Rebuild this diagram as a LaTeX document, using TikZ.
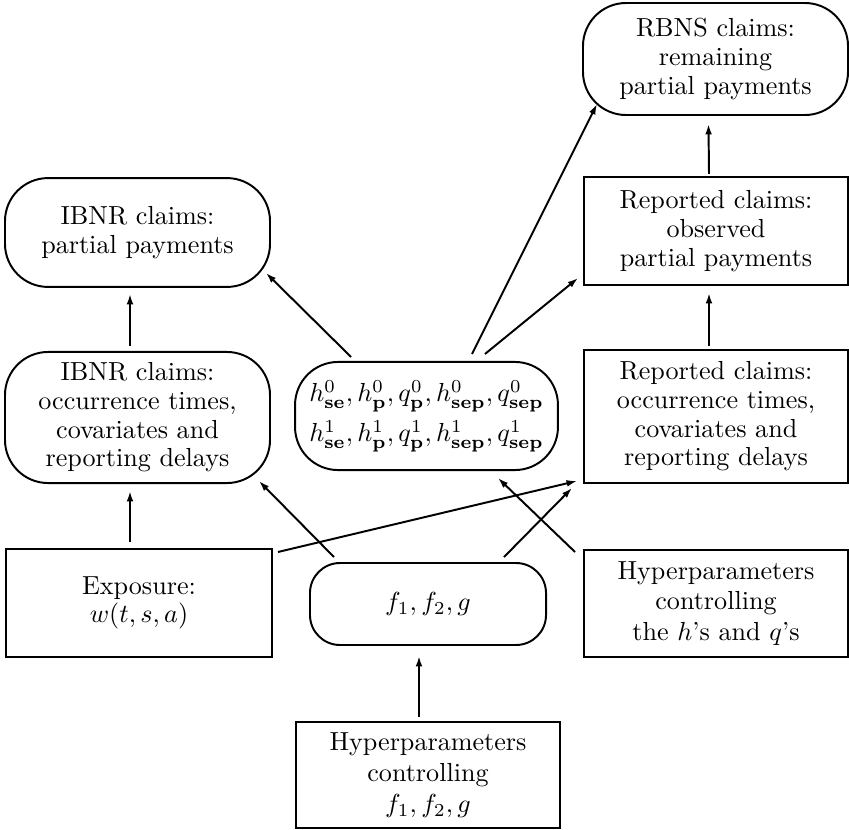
\documentclass[tikz,border=0pt]{standalone}
\usetikzlibrary{calc,arrows.meta}
\begin{document}
\begin{tikzpicture}[x=0.383pt,y=-0.383pt,
  every node/.style={align=center, font=\fontsize{10}{11}\selectfont, inner sep=0pt},
  oval/.style={draw, line width=0.75pt, rounded corners=16.5pt},
  boxn/.style={draw, line width=0.75pt},
  arr/.style={line width=0.75pt, -{Latex[length=4pt,width=2.6pt]}}]
\useasboundingbox (0,0) rectangle (849,830);
% top row
\node[oval, minimum width=101.5pt, minimum height=42.9pt] (rbns) at (715.5,59) {RBNS claims:\\remaining\\partial payments};
\node[oval, minimum width=101.5pt, minimum height=41.7pt] (ipay) at (137.5,232.5) {IBNR claims:\\partial payments};
\node[boxn, minimum width=101.1pt, minimum height=41.4pt] (robs) at (716,231) {Reported claims:\\observed\\partial payments};
% middle row
\node[oval, minimum width=101.5pt, minimum height=50.2pt] (iocc) at (137.5,417.5) {IBNR claims:\\occurrence times,\\covariates and\\reporting delays};
\node[oval, minimum width=100.7pt, minimum height=41.4pt, font=\fontsize{10}{15.3}\selectfont] (mid) at (426.5,416)
  {$h^0_{\mathbf{se}}, h^0_{\mathbf{p}}, q^0_{\mathbf{p}}, h^0_{\mathbf{sep}}, q^0_{\mathbf{sep}}$\\
   $h^1_{\mathbf{se}}, h^1_{\mathbf{p}}, q^1_{\mathbf{p}}, h^1_{\mathbf{sep}}, q^1_{\mathbf{sep}}$};
\node[boxn, minimum width=101.1pt, minimum height=50.9pt] (rocc) at (716,416.5) {Reported claims:\\occurrence times,\\covariates and\\reporting delays};
% lower row
\node[boxn, minimum width=101.9pt, minimum height=41.4pt] (expo) at (139,603) {Exposure:\\$w(t,s,a)$};
\node[oval, rounded corners=11.5pt, minimum width=90.4pt, minimum height=31.4pt] (fg) at (428,604) {$f_1, f_2, g$};
\node[boxn, minimum width=101.1pt, minimum height=41pt, font=\fontsize{10}{11.8}\selectfont] (hyph) at (716,603.5) {Hyperparameters\\controlling\\the $h$'s and $q$'s};
% bottom
\node[boxn, minimum width=101.1pt, minimum height=40.6pt, font=\fontsize{10}{12}\selectfont] (bot) at (428,775) {Hyperparameters\\controlling\\$f_1, f_2, g$};
% vertical arrows
\draw[arr] ($(iocc.north)+(-7.5,-5)$) -- ($(ipay.south)+(-7.5,6)$);
\draw[arr] ($(expo.north)+(-9,-6)$) -- ($(iocc.south)+(-7.5,7)$);
\draw[arr] ($(rocc.north)+(-7,-3)$) -- ($(robs.south)+(-7,7)$);
\draw[arr] ($(robs.north)+(-7,-2)$) -- ($(rbns.south)+(-7,8)$);
\draw[arr] ($(bot.north)+(-9,-4)$) -- ($(fg.south)+(-9,10)$);
% diagonal arrows
\draw[arr] ($(mid.north west)+(57,-4)$) -- ($(ipay.south east)+(-5,-15)$);
\draw[arr] ($(mid.north)+(45.5,-7)$) -- ($(rbns.south west)+(15,-12)$);
\draw[arr] ($(mid.north)+(58.5,-7)$) -- ($(robs.south west)+(-5,-8)$);
\draw[arr] ($(fg.north west)+(25,-5)$) -- ($(iocc.south east)+(-12,-3)$);
\draw[arr] ($(fg.north east)+(-43,-5)$) -- ($(rocc.south west)+(-11,4)$);
\draw[arr] ($(expo.north east)+(5,4)$) -- ($(rocc.south west)+(-6,-3)$);
\draw[arr] ($(hyph.north west)+(-8,3)$) -- ($(mid.south)+(71.5,7)$);
\end{tikzpicture}
\end{document}
